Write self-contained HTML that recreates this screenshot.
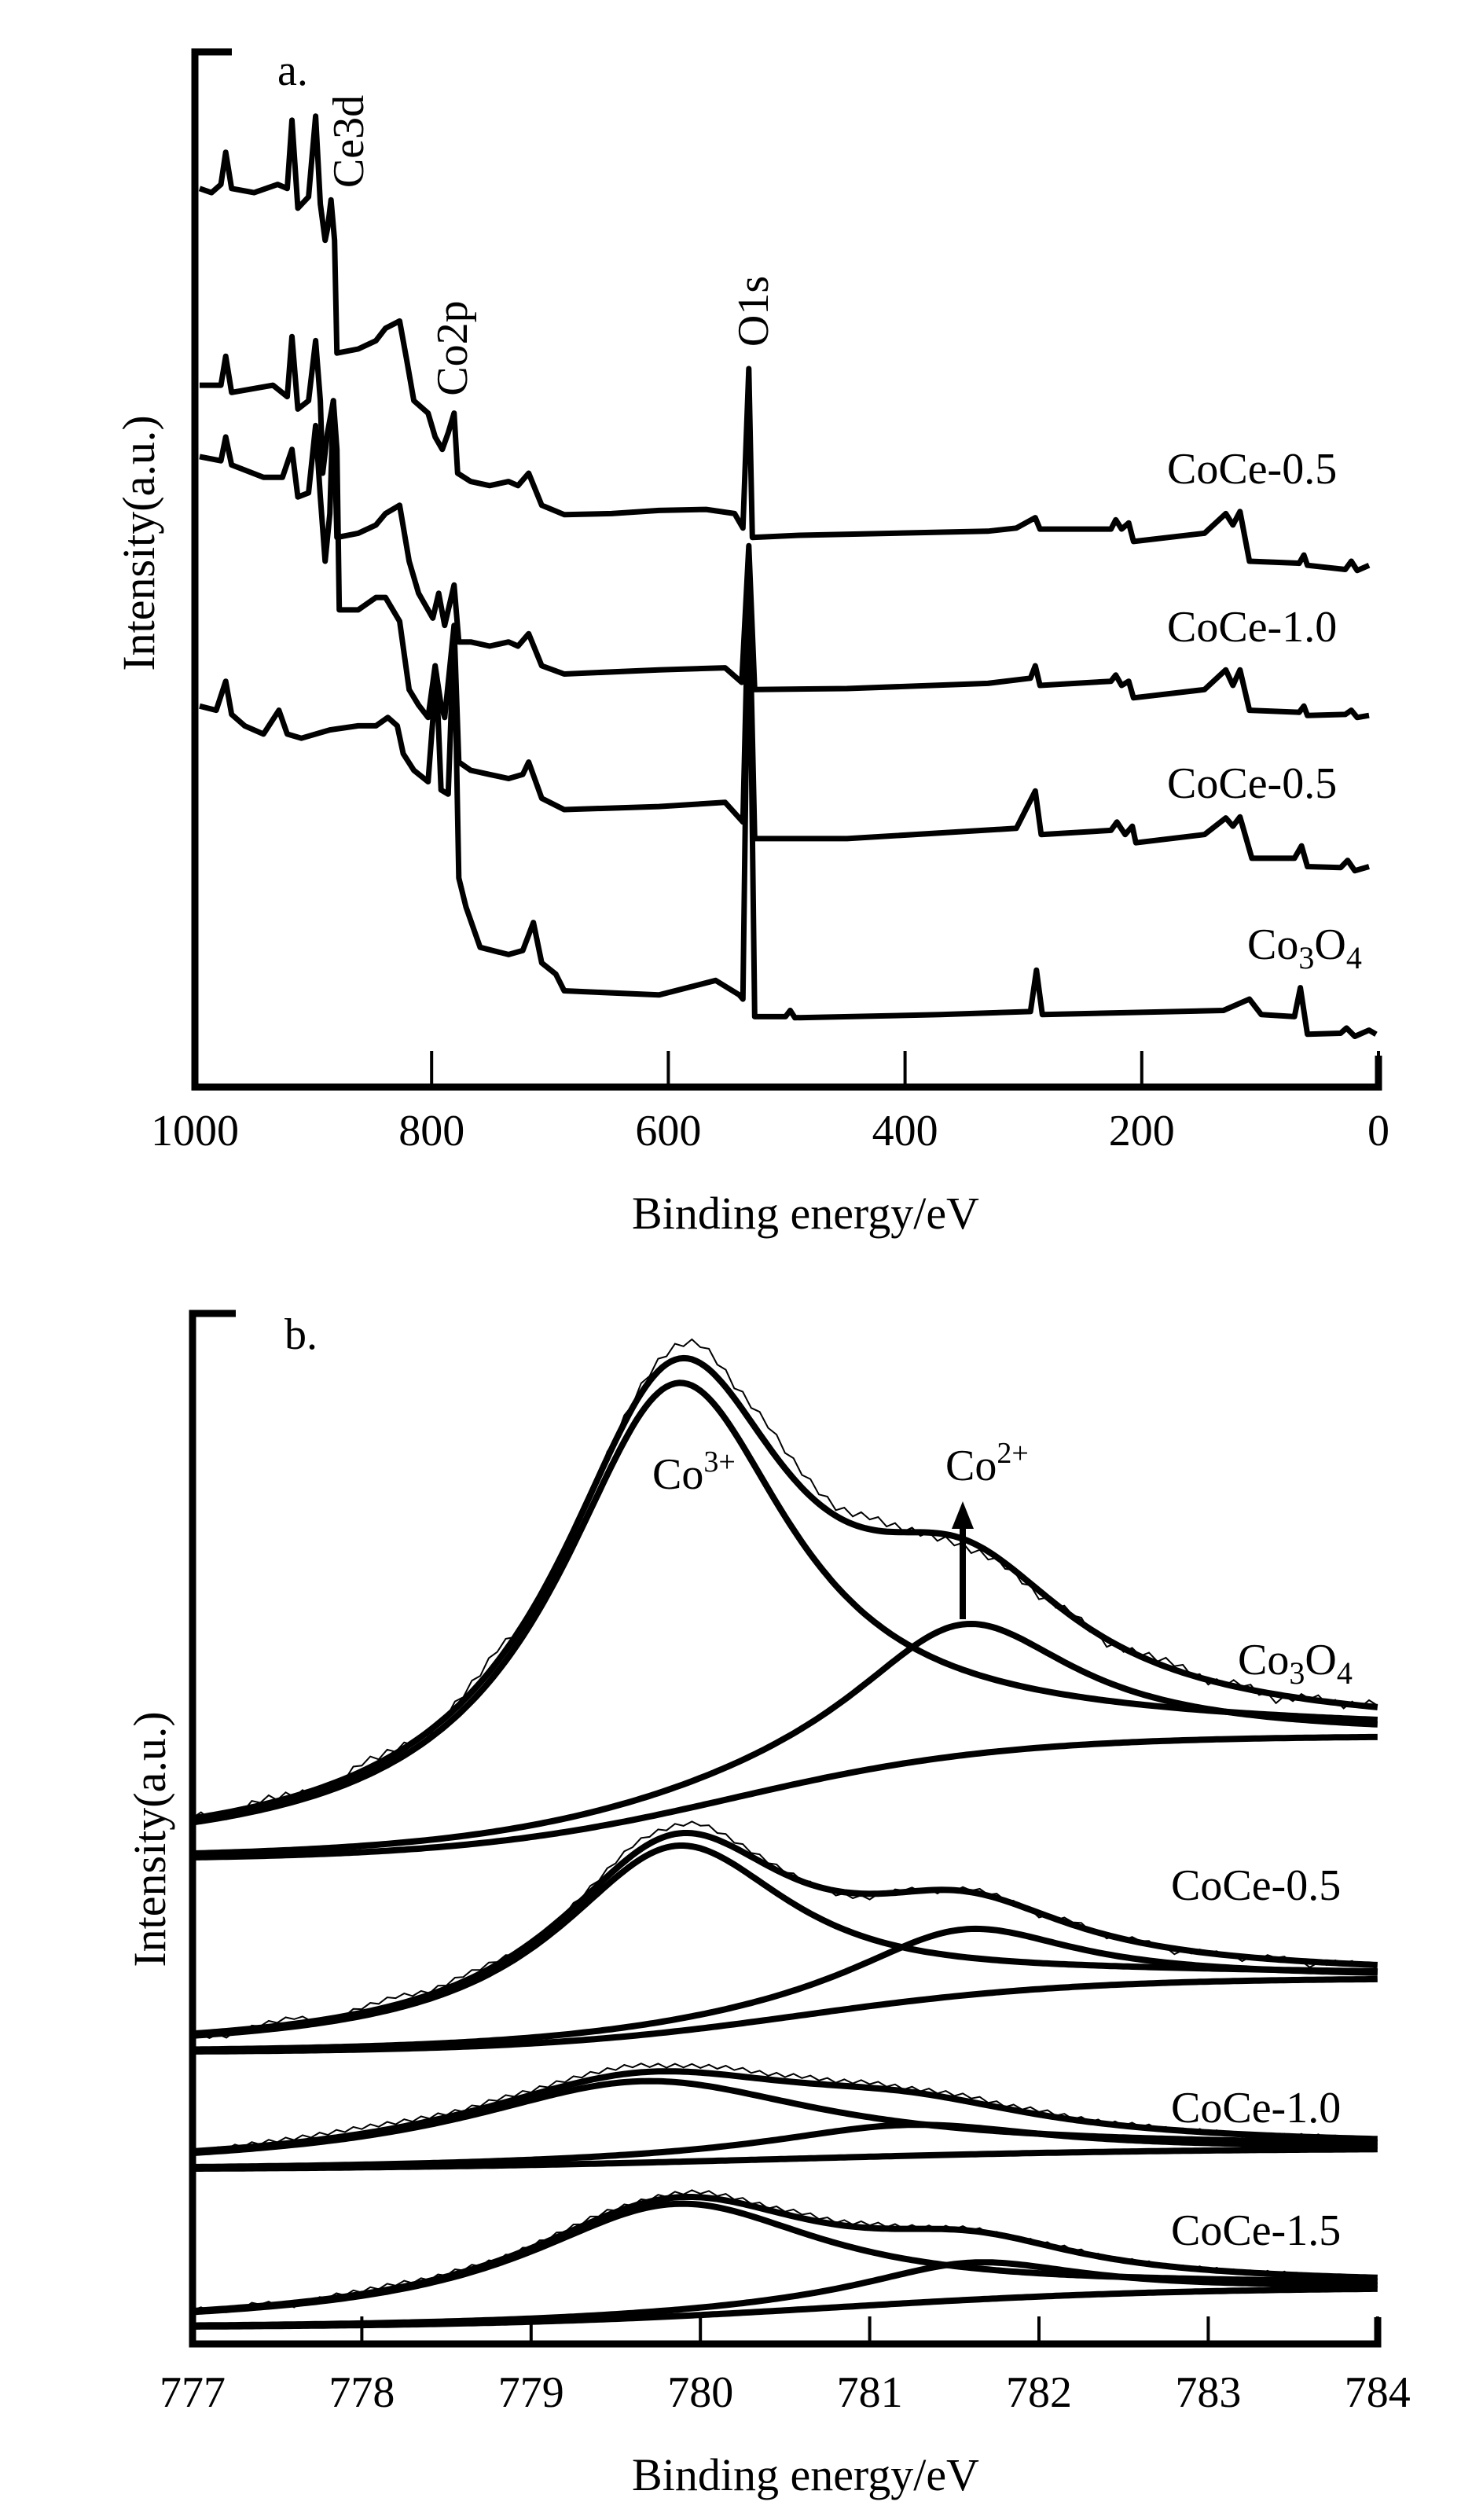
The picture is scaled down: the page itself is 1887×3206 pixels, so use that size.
<!DOCTYPE html>
<html><head><meta charset="utf-8"><style>
html,body{margin:0;padding:0;background:#fff;}
svg{display:block;}
text{font-family:"Liberation Serif",serif;fill:#000;}
</style></head><body>
<svg id="fig" width="1887" height="3206" viewBox="0 0 1887 3206" xmlns="http://www.w3.org/2000/svg">
<g id="panelA"></g>
<g id="panelB"></g>
</svg>
<script>
// ---------- Panel a data (binding energy eV, intensity a.u. 0-100) ----------
const aE1=[996,986,978,974,969,950,930,922,918,913,904,898,894,890,888,885,882,880,862,847,839,827,821,815,803,797,791,786,781,778,767,751,735,727,718,707,688,648,608,568,544,537,532,529,489,409,330,306,290,286,226,222,217,211,207,147,129,123,117,109,67,63,60,28,23,18,8];
const aV1=[86.8,86.4,87.2,90.3,86.8,86.4,87.2,86.8,93.4,84.9,86.0,93.8,85.3,81.8,82.9,85.7,81.8,70.9,71.3,72.1,73.3,74.0,70.2,66.3,65.1,62.8,61.6,63.2,65.1,59.3,58.5,58.1,58.5,58.1,59.3,56.2,55.3,55.4,55.7,55.8,55.4,54.0,69.4,53.1,53.3,53.5,53.7,54.0,55.0,53.9,53.9,54.8,53.9,54.5,52.7,53.5,55.4,54.3,55.6,50.8,50.6,51.4,50.4,50.0,50.8,49.9,50.4];
const aE2=[996,978,974,969,934,922,918,913,904,898,894,892,888,883,880,862,847,839,827,819,811,799,794,789,781,777,767,751,735,727,718,707,688,608,552,538,532,527,449,330,294,290,286,226,222,217,211,207,147,129,123,117,109,67,63,60,28,23,18,8];
const aV2=[67.8,67.8,70.6,67.1,67.8,66.7,72.5,65.5,66.3,72.1,66.3,59.3,63.2,66.3,53.1,53.5,54.3,55.4,56.2,50.8,47.7,45.3,47.7,44.6,48.5,43.0,43.0,42.6,43.0,42.6,43.8,40.7,39.9,40.3,40.5,39.1,52.3,38.4,38.5,39.0,39.5,40.7,38.8,39.2,39.8,38.8,39.2,37.6,38.4,40.3,38.8,40.3,36.4,36.2,36.8,35.9,36.0,36.4,35.7,35.9];
const aE3=[996,978,974,969,942,926,918,913,904,898,894,890,886,883,880,878,862,847,839,827,819,811,803,797,792,789,781,777,767,751,735,723,718,707,688,608,552,537,532,527,449,306,290,285,226,221,214,208,205,147,129,123,117,107,71,65,60,32,26,20,8];
const aV3=[60.9,60.5,62.8,60.1,58.9,58.9,61.6,57.0,57.4,63.9,57.0,50.8,55.4,66.3,61.6,46.1,46.1,47.3,47.3,45.0,38.4,36.9,35.7,40.7,36.9,35.7,44.6,31.4,30.6,30.2,29.8,30.2,31.4,27.9,26.8,27.1,27.5,25.6,49.2,24.0,24.0,25.0,28.6,24.4,24.8,25.6,24.4,25.2,23.6,24.4,26.0,25.2,26.1,22.1,22.1,23.3,21.3,21.2,21.9,20.9,21.3];
const aE4=[996,982,974,969,958,942,929,922,910,886,862,847,837,829,824,815,803,796,792,786,781,777,771,759,735,723,714,707,695,688,608,560,540,537,532,527,501,497,493,370,294,289,284,131,109,99,71,66,60,32,27,20,8,2];
const aV4=[36.8,36.4,39.2,36.0,34.9,34.1,36.4,34.1,33.7,34.5,34.9,34.9,35.7,34.9,32.2,30.6,29.5,39.9,28.7,28.3,44.2,20.2,17.4,13.5,12.8,13.2,15.9,12.0,10.9,9.3,8.9,10.3,8.9,8.5,51.6,6.8,6.8,7.4,6.7,7.0,7.3,11.3,7.0,7.4,8.5,7.0,6.8,9.6,5.1,5.2,5.7,4.9,5.5,5.1];
const aTicks=[1000,800,600,400,200,0];
const aNames=["CoCe-0.5","CoCe-1.0","CoCe-0.5"];

// ---------- Panel b data ----------
const bTicks=[777,778,779,780,781,782,783,784];
const bSamples=["Co3O4","CoCe-0.5","CoCe-1.0","CoCe-1.5"];
const bBgLo=[47.0,28.3,16.9,1.6];
const bBgHi=[59.0,35.5,19.0,5.5];
const bBgMid=[780.2,780.6,780.5,780.8];
const bBgSlope=[0.8,0.8,1.2,1.0];
const bCo3Center=[779.85,779.85,779.66,779.85];
const bCo3Height=[41.5,18.0,7.9,10.9];
const bCo3Width=[0.85,0.87,1.3,1.1];
const bCo2Center=[781.55,781.55,781.22,781.6];
const bCo2Height=[12.7,6.4,3.0,3.6];
const bCo2Width=[0.8,0.8,1.0,0.8];
const bNoise0=[0.3,-0.4,0.5,0.2,-0.5,0.8,0.4,-0.3,0.6,1.2,-0.5,-0.8,0.2,0.5,1.0,1.8,1.2,2.0,1.5,0.8,1.2,0.3,-0.5,-0.8,-0.3,-0.6,0.4,-0.5,0.3,0.6,-0.2,0.4,-0.6,0.3,-0.2,0.4];
const bNoise1=[-0.3,-0.5,0.3,0.6,-0.2,0.5,0.8,0.3,0.6,0.4,-0.3,0.2,0.5,0.9,0.7,1.0,0.6,0.4,0.2,-0.3,-0.4,0.3,-0.2,0.3,0.2,-0.3,0.4,-0.2,0.3,-0.4,0.2,-0.3,0.3,-0.4,0.2,-0.3];
const bNoise2=[-0.2,0.1,0.3,0.4,0.5,0.6,0.5,0.4,0.3,0.5,0.4,0.5,0.6,0.7,0.5,0.6,0.7,0.5,0.6,0.4,0.5,0.3,0.4,0.5,0.3,0.4,0.2,0.1,0.2,0.0,0.1,-0.1,0.0,0.1,0.0,0.0];
const bNoise3=[0.2,-0.2,0.3,-0.3,0.2,0.3,0.4,0.2,0.3,0.1,0.2,0.3,0.4,0.2,0.3,0.5,0.4,0.3,0.5,0.3,0.4,0.2,0.1,0.2,0.0,0.1,0.2,0.0,0.1,0.0,0.1,0.0,0.1,0.0,0.0,0.0];
const bNoise=[bNoise0,bNoise1,bNoise2,bNoise3];

const NS="http://www.w3.org/2000/svg";
function mk(parent,tag,attrs){const e=document.createElementNS(NS,tag);for(const k in attrs)e.setAttribute(k,attrs[k]);parent.appendChild(e);return e;}
function txt(parent,x,y,s,size,anchor){const t=mk(parent,'text',{x:x,y:y,'font-size':size,'text-anchor':anchor||'start'});t.textContent=s;return t;}

// ---------- Panel a ----------
const A=document.getElementById('panelA');
const xa=E=>248+(1000-E)/1000*1506;
const ya=v=>1383-v*13.17;
let el;
el=mk(A,'path',{d:'M295 66 H248 V1383 H1754 V1343',fill:'none',stroke:'#000','stroke-width':9});


aTicks.forEach(t=>{
  const l=mk(A,'line',{x1:xa(t),x2:xa(t),y1:1383,y2:1337,stroke:'#000','stroke-width':4});
  
  
  const tl=txt(A,xa(t),1457,String(t),56,'middle');
  
  
});
[[aE1,aV1],[aE2,aV2],[aE3,aV3],[aE4,aV4]].forEach((s,i)=>{
  const d=s[0].map((E,j)=>(j?'L':'M')+xa(E).toFixed(1)+' '+ya(s[1][j]).toFixed(1)).join(' ');
  const p=mk(A,'path',{d:d,fill:'none',stroke:'#000','stroke-width':7,'stroke-linejoin':'round'});
  
  
});
el=txt(A,1485,615,aNames[0],56);
el=txt(A,1485,816,aNames[1],56);
el=txt(A,1485,1015,aNames[2],56);
el=mk(A,'text',{x:1587,y:1220,'font-size':56});el.innerHTML='Co<tspan font-size="40" dy="12">3</tspan><tspan dy="-12">O</tspan><tspan font-size="40" dy="12">4</tspan>';

el=txt(A,353,108,'a.',56);
[['Ce3d',462,180],['Co2p',594,443],['O1s',977,396]].forEach(p=>{
  const t=mk(A,'text',{x:p[1],y:p[2],'font-size':56,'text-anchor':'middle',transform:'rotate(-90 '+p[1]+' '+p[2]+')'});
  t.textContent=p[0];
  
  
});
el=mk(A,'text',{x:196,y:691,'font-size':58,'text-anchor':'middle',transform:'rotate(-90 196 691)'});el.textContent='Intensity(a.u.)';

el=txt(A,1025,1563,'Binding energy/eV',58,'middle');


// ---------- Panel b ----------
const B=document.getElementById('panelB');
const xb=E=>245+(E-777)*215.4;
const yb=v=>2982-v*13.11;
el=mk(B,'path',{d:'M300 1671 H245 V2982 H1753 V2948',fill:'none',stroke:'#000','stroke-width':9});


bTicks.forEach(t=>{
  const l=mk(B,'line',{x1:xb(t),x2:xb(t),y1:2982,y2:2947,stroke:'#000','stroke-width':4});
  
  
  const tl=txt(B,xb(t),3062,String(t),56,'middle');
  
  
});
function bg(i,E){return bBgLo[i]+(bBgHi[i]-bBgLo[i])/(1+Math.exp(-(E-bBgMid[i])/bBgSlope[i]));}
function lor(E,c,h,w){return h/(1+Math.pow((E-c)/w,2));}
function curvePath(f){let d='';for(let k=0;k<=280;k++){const E=777+k*7/280;d+=(k?'L':'M')+xb(E).toFixed(1)+' '+yb(f(E)).toFixed(1)+' ';}return d;}
bSamples.forEach((s,i)=>{
  const g=mk(B,'g',{});
  
  
  // raw data
  const nz=bNoise[i];
  let d='';
  for(let k=0;k<nz.length;k++){
    for(let m=0;m<4;m++){
      const E=777+k*0.2+m*0.05; if(E>784)break;
      const n0=nz[k], n1=nz[Math.min(k+1,nz.length-1)];
      const jig=(m%2? 0.35:-0.25)*(i===0?1:0.6);
      const v=bg(i,E)+lor(E,bCo3Center[i],bCo3Height[i],bCo3Width[i])+lor(E,bCo2Center[i],bCo2Height[i],bCo2Width[i])+n0+(n1-n0)*m/4+jig;
      d+=(d?'L':'M')+xb(E).toFixed(1)+' '+yb(v).toFixed(1)+' ';
    }
  }
  let p=mk(g,'path',{d:d,fill:'none',stroke:'#000','stroke-width':2});
  
  
  p=mk(g,'path',{d:curvePath(E=>bg(i,E)),fill:'none',stroke:'#000','stroke-width':8});
  
  
  p=mk(g,'path',{d:curvePath(E=>bg(i,E)+lor(E,bCo3Center[i],bCo3Height[i],bCo3Width[i])),fill:'none',stroke:'#000','stroke-width':8});
  
  
  p=mk(g,'path',{d:curvePath(E=>bg(i,E)+lor(E,bCo2Center[i],bCo2Height[i],bCo2Width[i])),fill:'none',stroke:'#000','stroke-width':8});
  
  
  p=mk(g,'path',{d:curvePath(E=>bg(i,E)+lor(E,bCo3Center[i],bCo3Height[i],bCo3Width[i])+lor(E,bCo2Center[i],bCo2Height[i],bCo2Width[i])),fill:'none',stroke:'#000','stroke-width':8});
  
  
});
el=txt(B,362,1716,'b.',56);
el=mk(B,'text',{x:830,y:1894,'font-size':56});el.innerHTML='Co<tspan font-size="38" dy="-22">3+</tspan>';

el=mk(B,'text',{x:1203,y:1883,'font-size':56});el.innerHTML='Co<tspan font-size="38" dy="-22">2+</tspan>';

el=mk(B,'line',{x1:1225,y1:2060,x2:1225,y2:1935,stroke:'#000','stroke-width':8});

el=mk(B,'polygon',{points:'1225,1910 1211,1945 1239,1945',fill:'#000'});

el=mk(B,'text',{x:1575,y:2130,'font-size':56});el.innerHTML='Co<tspan font-size="40" dy="12">3</tspan><tspan dy="-12">O</tspan><tspan font-size="40" dy="12">4</tspan>';

el=txt(B,1490,2417,'CoCe-0.5',56);
el=txt(B,1490,2700,'CoCe-1.0',56);
el=txt(B,1490,2856,'CoCe-1.5',56);
el=mk(B,'text',{x:210,y:2340,'font-size':58,'text-anchor':'middle',transform:'rotate(-90 210 2340)'});el.textContent='Intensity(a.u.)';

el=txt(B,1025,3168,'Binding energy/eV',58,'middle');

</script>
</body></html>
